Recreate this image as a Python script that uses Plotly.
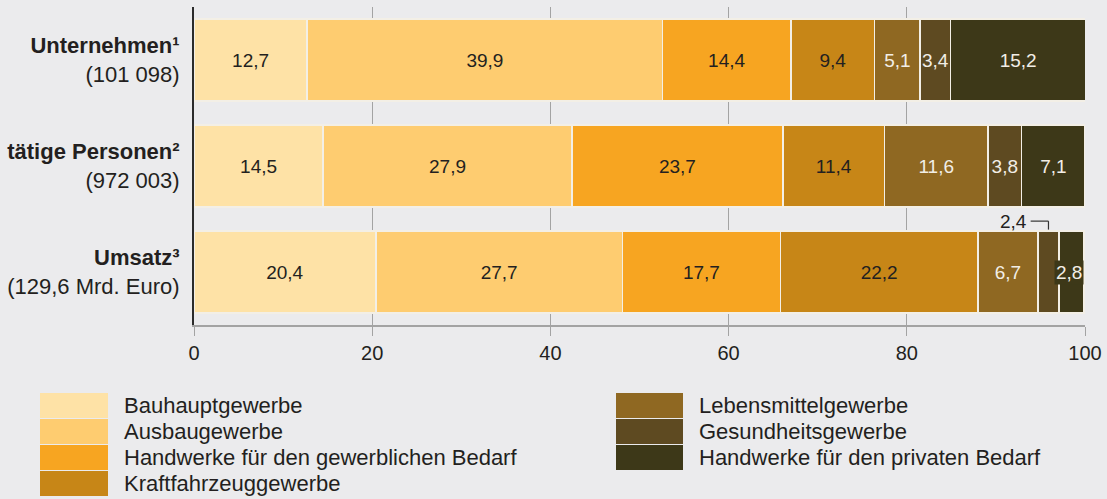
import plotly.graph_objects as go

# Kategorien (oben nach unten) und Anteile in %
categories = [
    "<b>Unternehmen¹</b><br>(101 098)",
    "<b>tätige Personen²</b><br>(972 003)",
    "<b>Umsatz³</b><br>(129,6 Mrd. Euro)",
]
groups = [
    "Bauhauptgewerbe",
    "Ausbaugewerbe",
    "Handwerke für den gewerblichen Bedarf",
    "Kraftfahrzeuggewerbe",
    "Lebensmittelgewerbe",
    "Gesundheitsgewerbe",
    "Handwerke für den privaten Bedarf",
]
bauhaupt = [12.7, 14.5, 20.4]
ausbau = [39.9, 27.9, 27.7]
gewerblich = [14.4, 23.7, 17.7]
kfz = [9.4, 11.4, 22.2]
lebensmittel = [5.1, 11.6, 6.7]
gesundheit = [3.4, 3.8, 2.4]
privat = [15.2, 7.1, 2.8]
series = [bauhaupt, ausbau, gewerblich, kfz, lebensmittel, gesundheit, privat]

colors = ["#fee2a6", "#fecc70", "#f7a521", "#c78617", "#8f6822", "#5e4a21", "#3d3818"]
text_colors = ["#231f20"] * 4 + ["#f2eee6"] * 3

BG = "#ebebed"
FONT = "Liberation Sans, Arial, sans-serif"
W, H = 1107, 499
ML, MR, MT, MB = 194, 22, 7, 174


def fmt(v):
    return f"{v:.1f}".replace(".", ",")


fig = go.Figure()
for i, (name, vals) in enumerate(zip(groups, series)):
    txt = [fmt(v) for v in vals]
    if i >= 5:
        txt[2] = ""  # Umsatz: kleine Segmente werden extra beschriftet
    fig.add_trace(go.Bar(
        y=categories, x=vals, name=name, orientation="h",
        marker=dict(color=colors[i], line=dict(color="#f3efe6", width=1.5)),
        width=0.774,
        text=txt, textposition="inside", insidetextanchor="middle", textangle=0,
        textfont=dict(color=text_colors[i], size=19, family=FONT),
        hoverinfo="skip", showlegend=False,
    ))

# Sonderbeschriftung Umsatz: 2,4 (mit Hinweislinie) und 2,8
cum = sum(s[2] for s in series[:5])
c24 = cum + gesundheit[2] / 2
c28 = cum + gesundheit[2] + privat[2] / 2
y_lead = 1.52
fig.add_shape(type="line", x0=c24 - 2.0, x1=c24, y0=y_lead, y1=y_lead,
              line=dict(color="#333333", width=1.2))
fig.add_shape(type="line", x0=c24, x1=c24, y0=y_lead, y1=1.60,
              line=dict(color="#333333", width=1.2))
fig.add_annotation(x=c24 - 2.2, y=y_lead, text=fmt(gesundheit[2]), showarrow=False,
                   xanchor="right", yanchor="middle",
                   font=dict(size=19, color="#231f20", family=FONT))
fig.add_annotation(x=c28 - 0.3, y=2, text=fmt(privat[2]), showarrow=False,
                   xanchor="center", yanchor="middle", bgcolor=colors[6], borderpad=1,
                   font=dict(size=19, color="#f2eee6", family=FONT))

# Legende (zwei Spalten, große Farbfelder)
pw = W - ML - MR
ph = H - MT - MB


def px_x(px):
    return (px - ML) / pw


def px_y(py):
    return (H - MB - py) / ph


legend_cols = [(40, 108, 122, groups[:4], colors[:4]), (616, 683, 697, groups[4:], colors[4:])]
for x0, x1, xt, names, cols in legend_cols:
    for r, (nm, col) in enumerate(zip(names, cols)):
        top = 393 + r * 26
        fig.add_shape(type="rect", xref="paper", yref="paper",
                      x0=px_x(x0), x1=px_x(x1), y0=px_y(top), y1=px_y(top + 25),
                      fillcolor=col, line=dict(width=0), layer="above")
        fig.add_annotation(xref="paper", yref="paper", x=px_x(xt), y=px_y(top + 12.5),
                           text=nm, showarrow=False, xanchor="left", yanchor="middle",
                           font=dict(size=22, color="#231f20", family=FONT))

fig.update_layout(
    barmode="stack", width=W, height=H, autosize=False,
    paper_bgcolor=BG, plot_bgcolor=BG,
    font=dict(family=FONT, color="#231f20"),
    margin=dict(l=ML, r=MR, t=MT, b=MB, autoexpand=False),
    xaxis=dict(range=[0, 100], dtick=20, showgrid=True, gridcolor="#a3a3a3", gridwidth=1,
               zeroline=False, showline=True, linecolor="#a3a3a3", linewidth=1.5,
               ticks="outside", ticklen=9, tickcolor="#a3a3a3", automargin=False,
               tickfont=dict(size=20, color="#231f20"), fixedrange=True),
    yaxis=dict(range=[2.5, -0.5], showgrid=False, showline=True, linecolor="#2b2b2b",
               linewidth=2, ticks="", ticklabelstandoff=8, automargin=False,
               tickfont=dict(size=22, color="#231f20"), fixedrange=True),
    showlegend=False,
)
fig.update_traces(constraintext="none")

fig.write_html(
    "out.html",
    config={"displayModeBar": False, "staticPlot": True},
    post_script="document.body.style.margin='0px';document.body.style.overflow='hidden';",
)
